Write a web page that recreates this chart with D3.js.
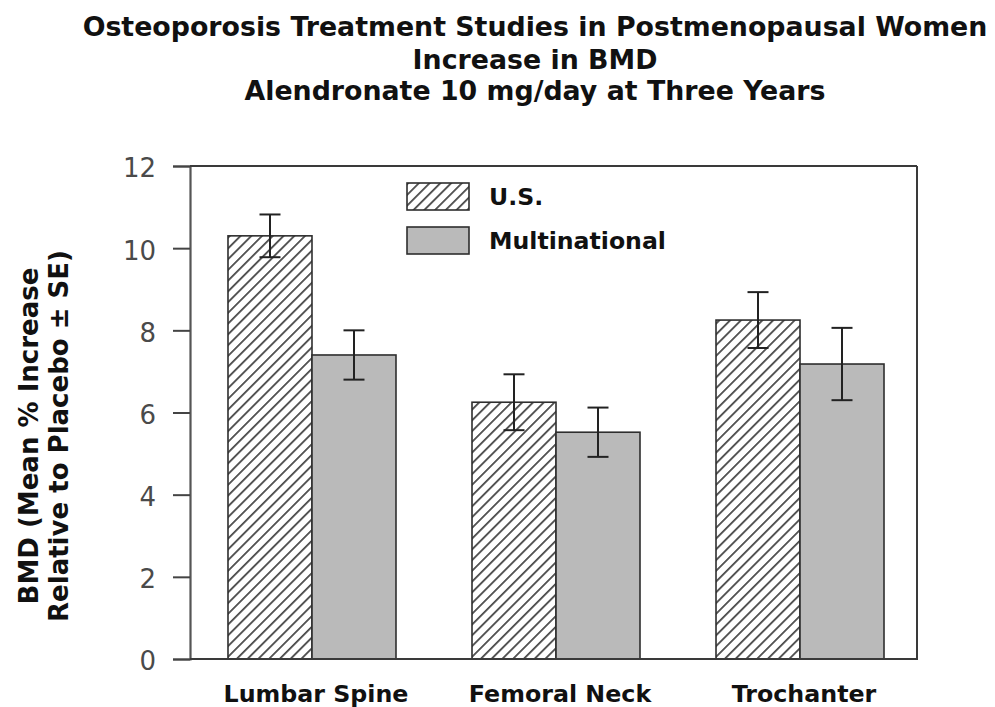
<!DOCTYPE html>
<html>
<head>
<meta charset="utf-8">
<script src="https://cdn.jsdelivr.net/npm/d3@7"></script>
<style>
  html, body { margin: 0; padding: 0; background: #ffffff; }
  svg { display: block; }
</style>
</head>
<body>
<svg id="chart" width="995" height="707"></svg>
<script>
// ---- data ----
const titleLines = [
  "Osteoporosis Treatment Studies in Postmenopausal Women",
  "Increase in BMD",
  "Alendronate 10 mg/day at Three Years"
];
const yTitleLines = ["BMD (Mean % Increase", "Relative to Placebo \u00B1 SE)"];
const categories = ["Lumbar Spine", "Femoral Neck", "Trochanter"];
const seriesNames = ["U.S.", "Multinational"];
const usValues = [10.3, 6.25, 8.25];
const usSE = [0.52, 0.68, 0.68];
const multiValues = [7.4, 5.52, 7.18];
const multiSE = [0.6, 0.6, 0.88];
const yTicks = [0, 2, 4, 6, 8, 10, 12];

// ---- layout ----
const svg = d3.select("#chart");
const plotLeft = 190, plotRight = 917, plotTop = 166, plotBottom = 659;
const FONT = "'DejaVu Sans', Verdana, sans-serif";

const defs = svg.append("defs");
const pat = defs.append("pattern")
  .attr("id", "hatch")
  .attr("patternUnits", "userSpaceOnUse")
  .attr("width", 7.6).attr("height", 7.6)
  .attr("patternTransform", "rotate(45)");
pat.append("rect").attr("width", 7.6).attr("height", 7.6).attr("fill", "#ffffff");
pat.append("line").attr("x1", 0.9).attr("y1", 0).attr("x2", 0.9).attr("y2", 7.6)
  .attr("stroke", "#262626").attr("stroke-width", 1.5);

const series = [
  { name: seriesNames[0], values: usValues, se: usSE, fill: "url(#hatch)" },
  { name: seriesNames[1], values: multiValues, se: multiSE, fill: "#bababa" }
];

const y = d3.scaleLinear().domain([0, 12]).range([plotBottom, plotTop]);
const x0 = d3.scaleBand().domain(categories).range([plotLeft, plotLeft + 732])
  .paddingInner(0.3115).paddingOuter(0.1557);
const x1 = d3.scaleBand().domain(seriesNames).range([0, x0.bandwidth()]);

// fit helper: font-size so that the text has the given width
function fitSize(text, family, weight, targetWidth) {
  const t = svg.append("text").attr("font-family", family).attr("font-weight", weight)
    .attr("font-size", 100).text(text);
  const w = t.node().getComputedTextLength();
  t.remove();
  return 100 * targetWidth / w;
}

// ---- title ----
const titleSize = fitSize(titleLines[0], FONT, "bold", 905);
const titleBase = [36, 69, 100];
svg.append("g").selectAll("text").data(titleLines).join("text")
  .attr("x", 535).attr("y", (d, i) => titleBase[i])
  .attr("text-anchor", "middle")
  .attr("font-family", FONT).attr("font-weight", "bold")
  .attr("font-size", titleSize).attr("fill", "#111")
  .text(d => d);

// ---- bars ----
const groups = svg.append("g").selectAll("g").data(categories).join("g")
  .attr("transform", d => `translate(${x0(d)},0)`);

groups.selectAll("rect").data((c, ci) => series.map(s => ({ s, v: s.values[ci] })))
  .join("rect")
  .attr("x", d => x1(d.s.name))
  .attr("y", d => y(d.v))
  .attr("width", x1.bandwidth())
  .attr("height", d => y(0) - y(d.v))
  .attr("fill", d => d.s.fill)
  .attr("stroke", "#2e2e2e").attr("stroke-width", 1.6);

// error bars
const eb = groups.selectAll("g.err").data((c, ci) => series.map(s => ({ s, v: s.values[ci], e: s.se[ci] })))
  .join("g").attr("class", "err")
  .attr("transform", d => `translate(${x1(d.s.name) + x1.bandwidth() / 2},0)`)
  .attr("stroke", "#222").attr("stroke-width", 2);
eb.append("line").attr("x1", 0).attr("x2", 0)
  .attr("y1", d => y(d.v + d.e)).attr("y2", d => y(d.v - d.e));
eb.append("line").attr("x1", -10.5).attr("x2", 10.5)
  .attr("y1", d => y(d.v + d.e)).attr("y2", d => y(d.v + d.e));
eb.append("line").attr("x1", -10.5).attr("x2", 10.5)
  .attr("y1", d => y(d.v - d.e)).attr("y2", d => y(d.v - d.e));

// ---- axes / frame ----
const yAxis = d3.axisLeft(y).tickValues(yTicks).tickSize(17).tickPadding(17)
  .tickFormat(d3.format("d"));
const gy = svg.append("g").attr("transform", `translate(${plotLeft},0)`).call(yAxis);
gy.select(".domain").attr("stroke", "#555").attr("stroke-width", 2.2);
gy.selectAll(".tick line").attr("stroke", "#444").attr("stroke-width", 2);
gy.selectAll(".tick text")
  .attr("font-family", FONT).attr("font-size", 26).attr("fill", "#4a4a4a")
  .attr("dy", "0.42em");

const frame = svg.append("g").attr("stroke", "#3a3a3a").attr("stroke-width", 2);
frame.append("line").attr("x1", plotLeft).attr("x2", plotRight).attr("y1", y(12)).attr("y2", y(12));
frame.append("line").attr("x1", plotRight).attr("x2", plotRight).attr("y1", y(12)).attr("y2", y(0));
frame.append("line").attr("x1", plotLeft).attr("x2", plotRight + 1).attr("y1", y(0)).attr("y2", y(0));

// x labels
const xLabSize = fitSize(categories[0], FONT, "bold", 185);
const xAxis = d3.axisBottom(x0).tickSize(0).tickPadding(0);
const gx = svg.append("g").attr("transform", `translate(0,${plotBottom})`).call(xAxis);
gx.select(".domain").remove();
gx.selectAll(".tick text")
  .attr("font-family", FONT).attr("font-weight", "bold").attr("font-size", xLabSize)
  .attr("fill", "#111").attr("dy", 0).attr("y", 43)
  .attr("transform", "translate(4,0)");

// y title
const yTitleSize = fitSize(yTitleLines[0], FONT, "bold", 337);
svg.append("g").selectAll("text").data(yTitleLines).join("text")
  .attr("transform", (d, i) => `translate(${38 + i * 30},436) rotate(-90)`)
  .attr("text-anchor", "middle")
  .attr("font-family", FONT).attr("font-weight", "bold")
  .attr("font-size", yTitleSize).attr("fill", "#111")
  .text(d => d);

// legend
const legSize = fitSize(seriesNames[1], FONT, "bold", 177);
const leg = svg.append("g").selectAll("g").data(series).join("g")
  .attr("transform", (d, i) => `translate(407,${183 + i * 44})`);
leg.append("rect").attr("width", 62).attr("height", 27)
  .attr("fill", d => d.fill).attr("stroke", "#2e2e2e").attr("stroke-width", 1.6);
leg.append("text").attr("x", 82).attr("y", 22)
  .attr("font-family", FONT).attr("font-weight", "bold").attr("font-size", legSize)
  .attr("fill", "#111").text(d => d.name);
</script>
</body>
</html>
